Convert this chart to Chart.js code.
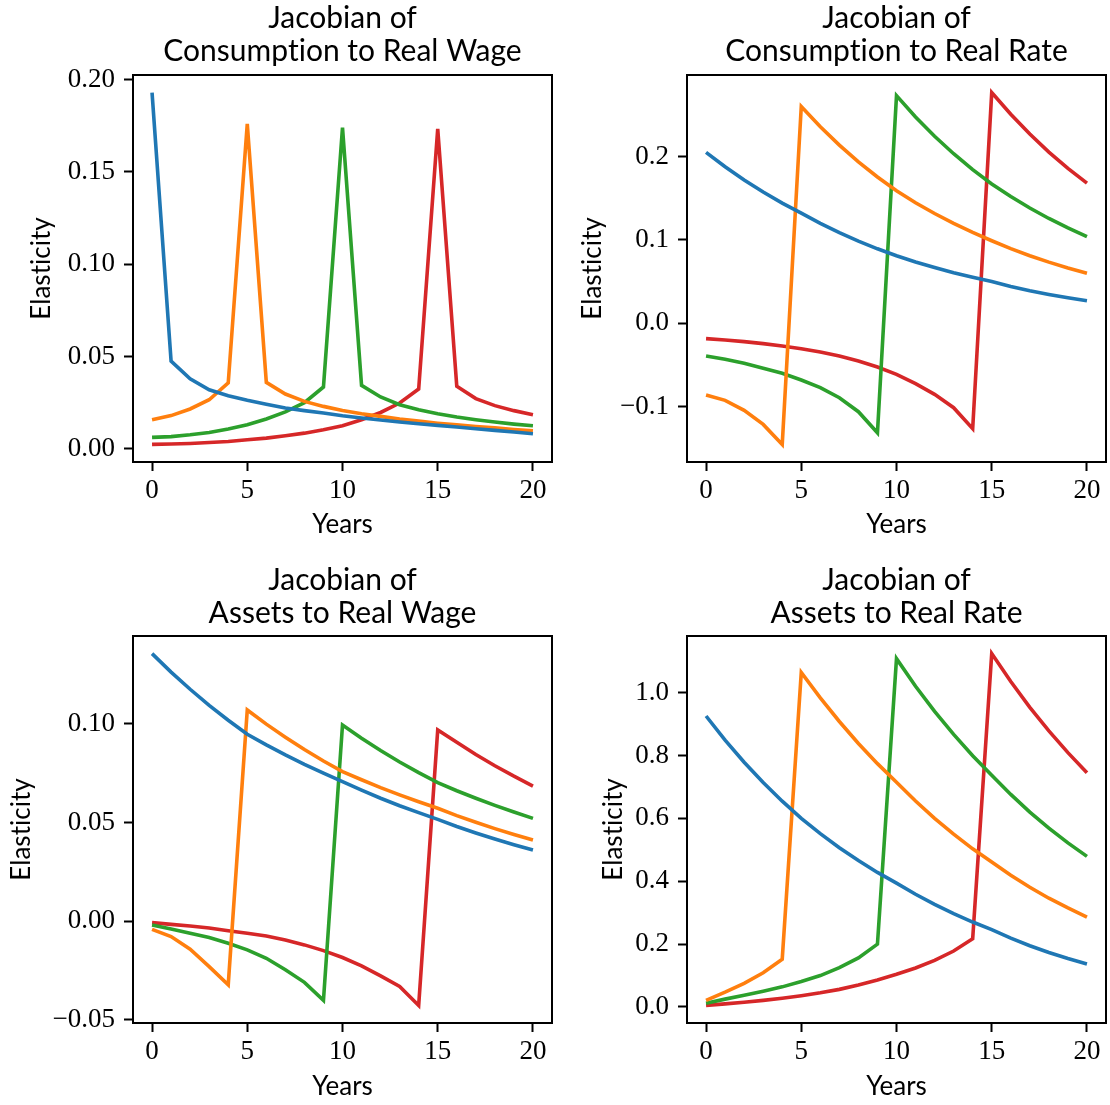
<!DOCTYPE html>
<html>
<head>
<meta charset="utf-8">
<script src="https://cdn.jsdelivr.net/npm/chart.js@4"></script>
<style>
  body { margin: 0; background: #fff; }
  canvas { position: absolute; }
</style>
</head>
<body>
<canvas id="consWage"></canvas>
<canvas id="consRate"></canvas>
<canvas id="assetsWage"></canvas>
<canvas id="assetsRate"></canvas>
<script>
// years after the shock
var years = [0, 1, 2, 3, 4, 5, 6, 7, 8, 9, 10, 11, 12, 13, 14, 15, 16, 17, 18, 19, 20];
var xTicks = [0, 5, 10, 15, 20];

// Consumption to real wage, one column per shock date (0, 5, 10, 15)
var consWageS0 = [0.193, 0.0475, 0.0379, 0.032, 0.0288, 0.0263, 0.0241, 0.0221, 0.0207, 0.0194, 0.0179, 0.0167, 0.0156, 0.0145, 0.0136, 0.0127, 0.0118, 0.0109, 0.0100, 0.0091, 0.0082];
var consWageS5 = [0.0158, 0.018, 0.0216, 0.0266, 0.0357, 0.176, 0.036, 0.0297, 0.0257, 0.023, 0.0208, 0.019, 0.0176, 0.0161, 0.015, 0.0139, 0.013, 0.0121, 0.0114, 0.0105, 0.0098];
var consWageS10 = [0.0062, 0.0066, 0.0076, 0.0089, 0.0107, 0.013, 0.0162, 0.02, 0.025, 0.0335, 0.174, 0.0344, 0.0281, 0.0239, 0.0212, 0.019, 0.0172, 0.0158, 0.0145, 0.0134, 0.0125];
var consWageS15 = [0.0024, 0.0026, 0.0029, 0.0034, 0.004, 0.0049, 0.0058, 0.0071, 0.0085, 0.0103, 0.0125, 0.0158, 0.0197, 0.0248, 0.0324, 0.1733, 0.0339, 0.0272, 0.0234, 0.0207, 0.0185];
var consWageTicks = [0, 0.05, 0.1, 0.15, 0.2];

// Consumption to real rate
var consRateS0 = [0.205, 0.1877, 0.1719, 0.1574, 0.1441, 0.132, 0.1197, 0.1086, 0.0985, 0.0893, 0.081, 0.0735, 0.0668, 0.0606, 0.0551, 0.050, 0.0442, 0.0391, 0.0346, 0.0306, 0.027];
var consRateS5 = [-0.086, -0.0924, -0.1044, -0.1212, -0.1452, 0.26, 0.2356, 0.2136, 0.1935, 0.1754, 0.159, 0.1446, 0.1316, 0.1197, 0.1089, 0.099, 0.0896, 0.081, 0.0733, 0.0663, 0.060];
var consRateS10 = [-0.0392, -0.0432, -0.048, -0.054, -0.060, -0.068, -0.0772, -0.0892, -0.106, -0.1312, 0.273, 0.2474, 0.2243, 0.2033, 0.1843, 0.167, 0.1519, 0.1382, 0.1257, 0.1144, 0.104];
var consRateS15 = [-0.0184, -0.020, -0.022, -0.0244, -0.0272, -0.0304, -0.0344, -0.0392, -0.0452, -0.0524, -0.0612, -0.0724, -0.0852, -0.1012, -0.1264, 0.2766, 0.2507, 0.2269, 0.2053, 0.1858, 0.168];
var consRateTicks = [-0.1, 0, 0.1, 0.2];

// Assets to real wage
var assetsWageS0 = [0.1357, 0.1263, 0.1176, 0.1094, 0.1019, 0.0948, 0.0894, 0.0843, 0.0795, 0.075, 0.0707, 0.0664, 0.0623, 0.0585, 0.055, 0.0516, 0.048, 0.0447, 0.0416, 0.0387, 0.036];
var assetsWageS5 = [-0.0042, -0.0079, -0.0143, -0.0231, -0.0323, 0.1071, 0.0999, 0.0933, 0.087, 0.0812, 0.0758, 0.0717, 0.0677, 0.064, 0.0605, 0.0572, 0.0535, 0.0501, 0.0469, 0.0439, 0.0411];
var assetsWageS10 = [-0.002, -0.004, -0.0062, -0.0084, -0.0113, -0.0146, -0.0189, -0.0247, -0.0311, -0.0402, 0.0995, 0.0928, 0.0865, 0.0807, 0.0753, 0.0702, 0.0661, 0.0623, 0.0587, 0.0553, 0.0521];
var assetsWageS15 = [-0.0008, -0.0017, -0.0025, -0.0035, -0.0049, -0.0062, -0.0076, -0.0096, -0.0121, -0.015, -0.0185, -0.0227, -0.0278, -0.0332, -0.0428, 0.097, 0.0907, 0.0845, 0.0788, 0.0735, 0.0685];
var assetsWageTicks = [-0.05, 0, 0.05, 0.1];

// Assets to real rate
var assetsRateS0 = [0.9255, 0.8487, 0.7783, 0.7137, 0.6545, 0.600, 0.5514, 0.5067, 0.4657, 0.428, 0.394, 0.3585, 0.3263, 0.2969, 0.2702, 0.246, 0.219, 0.1947, 0.1732, 0.154, 0.137];
var assetsRateS5 = [0.021, 0.047, 0.075, 0.109, 0.152, 1.064, 0.983, 0.908, 0.838, 0.774, 0.715, 0.655, 0.600, 0.550, 0.503, 0.461, 0.419, 0.381, 0.346, 0.315, 0.286];
var assetsRateS10 = [0.012, 0.025, 0.037, 0.050, 0.064, 0.081, 0.100, 0.125, 0.156, 0.200, 1.108, 1.020, 0.940, 0.867, 0.799, 0.737, 0.676, 0.620, 0.569, 0.522, 0.479];
var assetsRateS15 = [0.005, 0.010, 0.015, 0.021, 0.028, 0.036, 0.045, 0.056, 0.070, 0.086, 0.104, 0.124, 0.148, 0.178, 0.217, 1.124, 1.035, 0.953, 0.878, 0.809, 0.745];
var assetsRateTicks = [0, 0.2, 0.4, 0.6, 0.8, 1.0];

var colours = ['#1f77b4', '#ff7f0e', '#2ca02c', '#d62728'];
var sansFont = 'Lato, "DejaVu Sans", sans-serif';
var serifFont = '"Liberation Serif", "DejaVu Serif", serif';

// no "ti" ligature in the titles
var noLigatures = {
  id: 'noLigatures',
  beforeDraw: function (chart) {
    chart.ctx.textRendering = 'optimizeSpeed';
    chart.ctx.letterSpacing = '0.01px';
  }
};

// box around the axes, like matplotlib spines
var frame = {
  id: 'frame',
  afterDraw: function (chart) {
    var a = chart.chartArea, ctx = chart.ctx;
    ctx.save();
    ctx.strokeStyle = '#000';
    ctx.lineWidth = 2;
    ctx.strokeRect(a.left, a.top, a.right - a.left, a.bottom - a.top);
    ctx.restore();
  }
};

var fmt = function (v, d) {
  var s = Math.abs(v) < 1e-9 ? (0).toFixed(d) : v.toFixed(d);
  return s.replace('-', '\u2212');
};

// place: canvas left/top, y axis width, x axis height, chart right, chart bottom, title paddings
function makePanel(id, place, title, series, yTicks, decimals) {
  var canvas = document.getElementById(id);
  var width = place.right + 4 - place.left;
  var height = place.bottom + place.xh - place.top;
  canvas.width = width;
  canvas.height = height;
  canvas.style.left = place.left + 'px';
  canvas.style.top = place.top + 'px';

  var all = [].concat.apply([], series);
  var lo = Math.min.apply(null, all), hi = Math.max.apply(null, all);
  var yPad = (hi - lo) * 0.05;
  var xPad = (years[years.length - 1] - years[0]) * 0.05;

  new Chart(canvas, {
    type: 'line',
    data: {
      datasets: series.map(function (s, i) {
        return {
          data: s.map(function (v, j) { return { x: years[j], y: v }; }),
          borderColor: colours[i],
          borderWidth: 3.6,
          pointRadius: 0,
          tension: 0,
          fill: false
        };
      })
    },
    options: {
      responsive: false,
      animation: false,
      devicePixelRatio: 1,
      layout: { padding: { left: 0, right: 4, top: 0, bottom: 0 } },
      plugins: {
        legend: { display: false },
        tooltip: { enabled: false },
        title: {
          display: true,
          text: title,
          fullSize: false,
          color: '#000',
          font: { family: sansFont, size: 30, weight: 'normal', lineHeight: 1.1 },
          padding: { top: place.pt, bottom: place.pb }
        }
      },
      scales: {
        x: {
          type: 'linear',
          min: years[0] - xPad,
          max: years[years.length - 1] + xPad,
          afterBuildTicks: function (s) { s.ticks = xTicks.map(function (v) { return { value: v }; }); },
          afterFit: function (s) { s.height = place.xh; },
          border: { display: false },
          grid: { drawOnChartArea: false, tickLength: 9, tickWidth: 2, tickColor: '#000' },
          ticks: {
            color: '#000', padding: 4, maxRotation: 0,
            font: { family: serifFont, size: 27 },
            callback: function (v) { return String(v); }
          },
          title: {
            display: true, text: 'Years', color: '#000', padding: 0,
            font: { family: sansFont, size: 26, lineHeight: 1.2 }
          }
        },
        y: {
          type: 'linear',
          min: lo - yPad,
          max: hi + yPad,
          afterBuildTicks: function (s) { s.ticks = yTicks.map(function (v) { return { value: v }; }); },
          afterFit: function (s) { s.width = place.yw; },
          border: { display: false },
          grid: { drawOnChartArea: false, tickLength: 9, tickWidth: 2, tickColor: '#000' },
          ticks: {
            color: '#000', padding: 9,
            font: { family: serifFont, size: 27 },
            callback: function (v) { return fmt(v, decimals); }
          },
          title: {
            display: true, text: 'Elasticity', color: '#000', padding: 0,
            font: { family: sansFont, size: 26, lineHeight: 1.2 }
          }
        }
      }
    },
    plugins: [noLigatures, frame]
  });
}

makePanel('consWage', { left: 26, top: 0, yw: 107, xh: 78, right: 552, bottom: 462, pt: 1.5, pb: 7.5 },
  ['Jacobian of', 'Consumption to Real Wage'],
  [consWageS0, consWageS5, consWageS10, consWageS15], consWageTicks, 2);
makePanel('consRate', { left: 577, top: 0, yw: 110, xh: 78, right: 1106, bottom: 462, pt: 1.5, pb: 7.5 },
  ['Jacobian of', 'Consumption to Real Rate'],
  [consRateS0, consRateS5, consRateS10, consRateS15], consRateTicks, 1);
makePanel('assetsWage', { left: 6, top: 560, yw: 127, xh: 79, right: 552, bottom: 1023, pt: 3.5, pb: 6.5 },
  ['Jacobian of', 'Assets to Real Wage'],
  [assetsWageS0, assetsWageS5, assetsWageS10, assetsWageS15], assetsWageTicks, 2);
makePanel('assetsRate', { left: 598, top: 560, yw: 89, xh: 79, right: 1106, bottom: 1023, pt: 3.5, pb: 6.5 },
  ['Jacobian of', 'Assets to Real Rate'],
  [assetsRateS0, assetsRateS5, assetsRateS10, assetsRateS15], assetsRateTicks, 1);
</script>
</body>
</html>
